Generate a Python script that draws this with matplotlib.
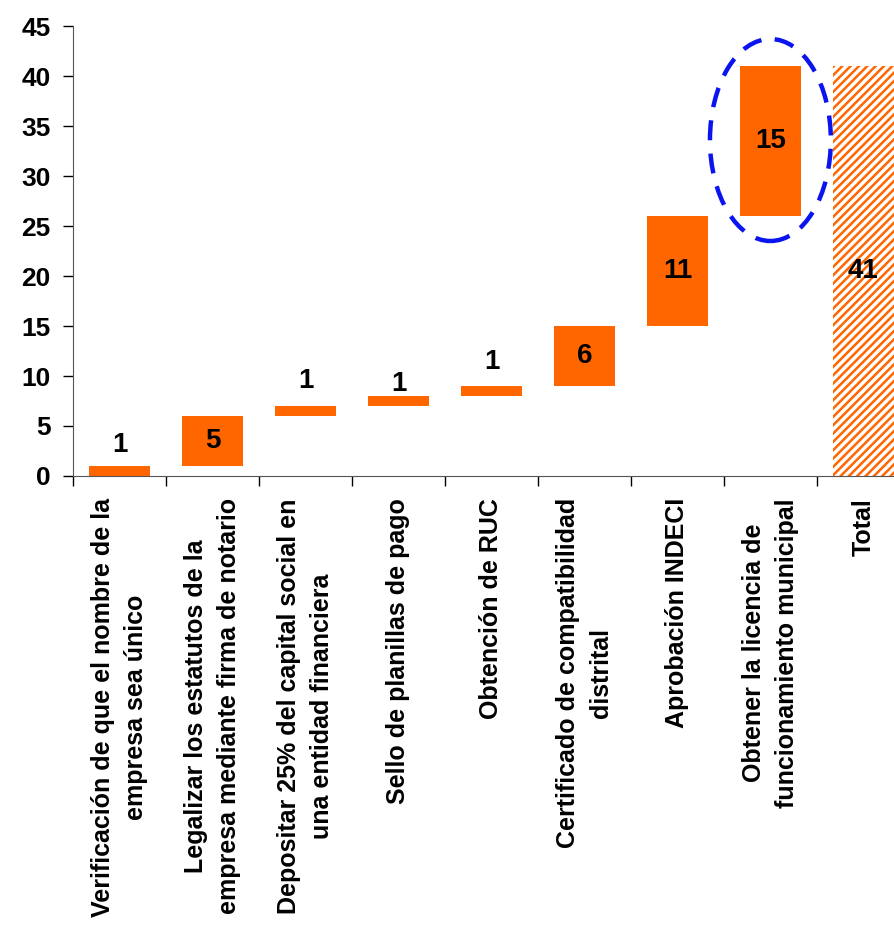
import numpy as np
import matplotlib.pyplot as plt
from matplotlib.patches import Ellipse

plt.rcParams['font.family'] = ['Liberation Sans', 'DejaVu Sans']
plt.rcParams['font.weight'] = 'bold'
plt.rcParams['hatch.linewidth'] = 1.8

# data
steps = [
    "Verificación de que el nombre de la\nempresa sea único",
    "Legalizar los estatutos de la\nempresa mediante firma de notario",
    "Depositar 25% del capital social en\nuna entidad financiera",
    "Sello de planillas de pago",
    "Obtención de RUC",
    "Certificado de compatibilidad\ndistrital",
    "Aprobación INDECI",
    "Obtener la licencia de\nfuncionamiento municipal",
    "Total",
]
days = [1, 5, 1, 1, 1, 6, 11, 15]
total = sum(days)

orange = '#FF6600'
bottoms = np.concatenate([[0], np.cumsum(days)[:-1]])
x = np.arange(len(steps))

fig = plt.figure(figsize=(8.95, 9.34), dpi=100)
ax = fig.add_axes([73/895, 1 - 476/934, (895 - 73)/895, 450/934])

bw = 0.66
ax.bar(x[:-1], days, bottom=bottoms, width=bw, color=orange, linewidth=0)
ax.bar(x[-1], total, width=bw, facecolor='white', edgecolor=orange,
       hatch='////', linewidth=0)

# value labels: inside big bars, above the thin ones
above_pad = [2.1, None, 2.5, 1.2, 2.4]
for i, (b, v) in enumerate(zip(bottoms, days)):
    if v > 2:
        ax.text(x[i], b + v/2, str(v), ha='center', va='center', fontsize=20)
    else:
        ax.text(x[i], b + v + above_pad[i], str(v), ha='center', va='center', fontsize=20)
ax.text(x[-1], total/2, str(total), ha='center', va='center', fontsize=20)

# highlight ellipse around the municipal license step
ax.add_patch(Ellipse((x[7], bottoms[7] + days[7]/2 + 0.1), 1.30, 20.2,
                     fill=False, edgecolor='#0A14F0', linewidth=3.2,
                     linestyle=(0, (4.5, 3)), clip_on=False))

ax.set_ylim(0, 45)
ax.set_yticks(range(0, 46, 5))
ax.set_xlim(-0.5, 8.34)
ax.set_xticks(np.arange(-0.5, 8.5, 1.0))
ax.set_xticklabels([])
ax.set_xticks(x, steps, minor=True)
ax.tick_params(axis='x', which='minor', length=0, pad=16, labelsize=18,
               rotation=90)
ax.tick_params(axis='x', which='major', length=7, width=1, direction='out')
ax.tick_params(axis='y', length=7, width=1, labelsize=19, pad=9)
for lab in ax.get_xticklabels(minor=True):
    lab.set_multialignment('center')
    lab.set_linespacing(1.5)

for s in ['top', 'right']:
    ax.spines[s].set_visible(False)
for s in ['left', 'bottom']:
    ax.spines[s].set_color('#555555')

plt.savefig('out.png', dpi=100)
